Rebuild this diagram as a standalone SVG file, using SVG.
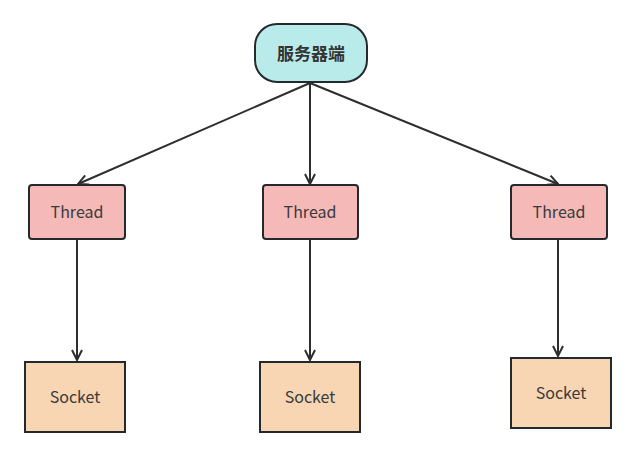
<svg xmlns="http://www.w3.org/2000/svg" width="636" height="457" viewBox="0 0 636 457">
<style>
.box{stroke:#24292e;stroke-width:2}
.srv{fill:#b8ebea}
.thr{fill:#f5b9b8}
.sock{fill:#f8d6b4}
.lbl{font-family:"Microsoft YaHei","Noto Sans CJK SC","Noto Sans",sans-serif;font-size:16px;fill:#3a3a3a;text-anchor:middle;dominant-baseline:central}
.bold{font-weight:bold;fill:#333;font-size:17px}
.edge{stroke:#2e2e2e;stroke-width:2;fill:none;marker-end:url(#arr)}
</style>
<defs>
<marker id="arr" viewBox="0 0 12 12" refX="11" refY="6" markerWidth="12" markerHeight="12" markerUnits="userSpaceOnUse" orient="auto">
<path d="M1,1 L11,6 L1,11" fill="none" stroke="#2e2e2e" stroke-width="2"/>
</marker>
</defs>
<rect width="636" height="457" fill="#ffffff"/>
<g id="connectors">
<line class="edge" x1="310" y1="83" x2="78" y2="184"/>
<line class="edge" x1="310" y1="83" x2="310" y2="184"/>
<line class="edge" x1="310" y1="83" x2="558" y2="184"/>
<line class="edge" x1="77" y1="239" x2="77" y2="360"/>
<line class="edge" x1="310" y1="239" x2="310" y2="360"/>
<line class="edge" x1="558" y1="239" x2="558" y2="356"/>
</g>
<g id="server">
<rect class="box srv" x="255" y="24" width="112" height="58" rx="22" ry="22"/>
<text class="lbl bold" x="311" y="52">服务器端</text>
</g>
<g id="thread1">
<rect class="box thr" x="29" y="185" width="96" height="54" rx="3"/>
<text class="lbl" x="77" y="211">Thread</text>
</g>
<g id="thread2">
<rect class="box thr" x="263" y="185" width="95" height="54" rx="3"/>
<text class="lbl" x="310" y="211">Thread</text>
</g>
<g id="thread3">
<rect class="box thr" x="511" y="185" width="96" height="54" rx="3"/>
<text class="lbl" x="559" y="211">Thread</text>
</g>
<g id="socket1">
<rect class="box sock" x="25" y="362" width="100" height="70"/>
<text class="lbl" x="75" y="396">Socket</text>
</g>
<g id="socket2">
<rect class="box sock" x="260" y="362" width="100" height="70"/>
<text class="lbl" x="310" y="396">Socket</text>
</g>
<g id="socket3">
<rect class="box sock" x="511" y="358" width="100" height="70"/>
<text class="lbl" x="561" y="392">Socket</text>
</g>
</svg>
